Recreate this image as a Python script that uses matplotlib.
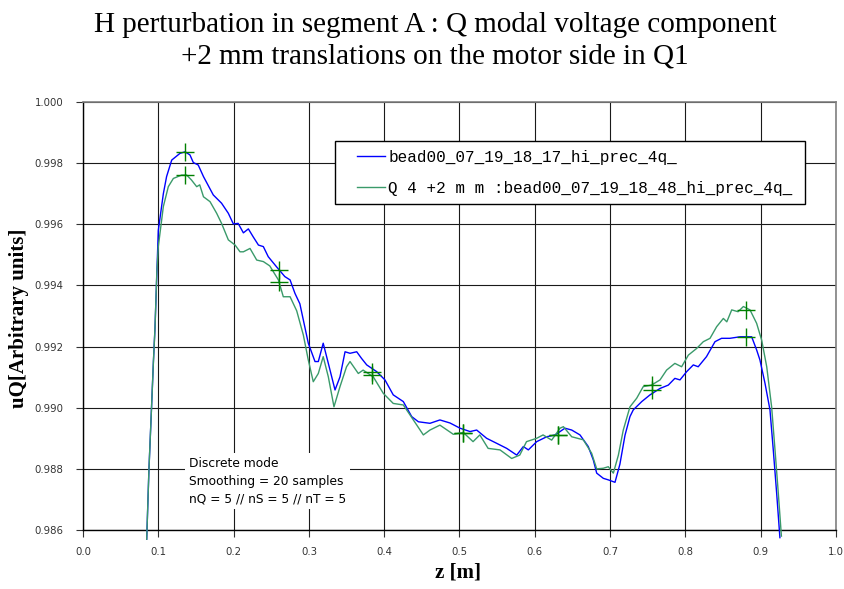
import matplotlib
matplotlib.use("Agg")
import matplotlib.pyplot as plt
from matplotlib.patches import Rectangle

# ---- data ----
blue_z = [0.0846, 0.0876, 0.0910, 0.0935, 0.0956, 0.100, 0.1067, 0.111, 0.1178, 0.1288,
          0.1355, 0.142, 0.1465, 0.153, 0.160, 0.173, 0.184, 0.193, 0.1997, 0.206,
          0.213, 0.2196, 0.226, 0.233, 0.2395, 0.246, 0.257, 0.268, 0.275, 0.2815,
          0.288, 0.2926, 0.2992, 0.3081, 0.3125, 0.319, 0.3258, 0.3347, 0.3413, 0.348,
          0.3546, 0.3635, 0.370, 0.3768, 0.390, 0.401, 0.412, 0.4254, 0.4365, 0.4454,
          0.4608, 0.474, 0.4874, 0.5007, 0.514, 0.5228, 0.536, 0.549, 0.5627, 0.576,
          0.5848, 0.5914, 0.6025, 0.6158, 0.627, 0.640, 0.649, 0.660, 0.671, 0.6777,
          0.6822, 0.691, 0.6976, 0.7065, 0.713, 0.7198, 0.7264, 0.7308, 0.742, 0.753,
          0.7663, 0.7773, 0.786, 0.7928, 0.8017, 0.8105, 0.817, 0.828, 0.8393, 0.848,
          0.859, 0.8725, 0.881, 0.888, 0.8946, 0.899, 0.9057, 0.9123, 0.9167, 0.9212,
          0.9255]
blue_v = [0.98570, 0.98800, 0.99000, 0.99150, 0.99260, 0.99580, 0.99700, 0.99756, 0.99810, 0.99832,
          0.99837, 0.99827, 0.99802, 0.99794, 0.99756, 0.99696, 0.99669, 0.99636, 0.99601, 0.99603,
          0.99572, 0.99585, 0.99559, 0.99532, 0.99527, 0.99494, 0.99461, 0.99429, 0.99418, 0.99374,
          0.99340, 0.99287, 0.99211, 0.99151, 0.99151, 0.99211, 0.99145, 0.99058, 0.99101, 0.99183,
          0.99178, 0.99183, 0.99161, 0.99140, 0.99118, 0.99091, 0.99042, 0.99020, 0.98971, 0.98954,
          0.98949, 0.98960, 0.98950, 0.98933, 0.98922, 0.98927, 0.98900, 0.98884, 0.98867, 0.98845,
          0.98873, 0.98862, 0.98889, 0.98905, 0.98911, 0.98933, 0.98927, 0.98911, 0.98873, 0.98829,
          0.98786, 0.98769, 0.98764, 0.98756, 0.98815, 0.98910, 0.98971, 0.98993, 0.99020, 0.99042,
          0.99063, 0.99074, 0.99096, 0.99091, 0.99118, 0.99140, 0.99134, 0.99167, 0.99216, 0.99227,
          0.99227, 0.99232, 0.99232, 0.99232, 0.99189, 0.99156, 0.99080, 0.98993, 0.98862, 0.98720,
          0.98575]

green_z = [0.0846, 0.0876, 0.0910, 0.0935, 0.0956, 0.098, 0.100, 0.1067, 0.1133, 0.120,
           0.131, 0.1377, 0.144, 0.151, 0.155, 0.160, 0.1687, 0.1775, 0.184, 0.193,
           0.202, 0.2085, 0.213, 0.2218, 0.2307, 0.2395, 0.248, 0.2595, 0.266, 0.275,
           0.2838, 0.2926, 0.2992, 0.3058, 0.3125, 0.319, 0.3258, 0.3333, 0.3413, 0.350,
           0.3546, 0.3656, 0.372, 0.3855, 0.3988, 0.412, 0.4254, 0.4387, 0.452, 0.4608,
           0.474, 0.4918, 0.505, 0.518, 0.527, 0.538, 0.5538, 0.5693, 0.580, 0.589,
           0.6025, 0.611, 0.6224, 0.6335, 0.638, 0.649, 0.6644, 0.6755, 0.6822, 0.691,
           0.6976, 0.7043, 0.711, 0.7175, 0.7264, 0.7353, 0.744, 0.755, 0.7663, 0.775,
           0.786, 0.795, 0.8039, 0.815, 0.8238, 0.8327, 0.8415, 0.8504, 0.855, 0.8615,
           0.870, 0.877, 0.8858, 0.8946, 0.9013, 0.908, 0.9145, 0.919, 0.9234, 0.9275]
green_v = [0.98570, 0.98800, 0.99000, 0.99150, 0.99260, 0.99440, 0.99527, 0.99658, 0.99723, 0.99750,
           0.99761, 0.99761, 0.99745, 0.99723, 0.99729, 0.99690, 0.99674, 0.99636, 0.99603, 0.99549,
           0.99532, 0.99510, 0.99510, 0.99521, 0.99483, 0.99478, 0.99464, 0.99418, 0.99363, 0.99363,
           0.99317, 0.99238, 0.99156, 0.99085, 0.99112, 0.99167, 0.99101, 0.99003, 0.99069, 0.99134,
           0.99151, 0.99112, 0.99123, 0.99101, 0.99047, 0.99014, 0.99009, 0.98960, 0.98911, 0.98927,
           0.98943, 0.98913, 0.98919, 0.98889, 0.98911, 0.98867, 0.98862, 0.98834, 0.98845, 0.98889,
           0.98900, 0.98911, 0.98894, 0.98933, 0.98938, 0.98905, 0.98895, 0.98851, 0.98800, 0.98802,
           0.98807, 0.98786, 0.98845, 0.98927, 0.99003, 0.99031, 0.99069, 0.99074, 0.99091, 0.99123,
           0.99145, 0.99134, 0.99172, 0.99194, 0.99216, 0.99227, 0.99265, 0.99292, 0.99281, 0.99320,
           0.99314, 0.99331, 0.99320, 0.99276, 0.99221, 0.99134, 0.99003, 0.98862, 0.98720, 0.98580]

marker_z = [0.1355, 0.260, 0.3834, 0.505, 0.6313, 0.755, 0.880]
marker_blue_v = [0.99837, 0.99451, 0.99118, 0.98916, 0.98911, 0.99058, 0.99232]
marker_green_v = [0.99761, 0.99412, 0.99107, 0.98916, 0.98911, 0.99074, 0.99320]

x_ticks = [0.0, 0.1, 0.2, 0.3, 0.4, 0.5, 0.6, 0.7, 0.8, 0.9, 1.0]
y_ticks = [0.986, 0.988, 0.990, 0.992, 0.994, 0.996, 0.998, 1.000]

label_blue = "bead00_07_19_18_17_hi_prec_4q_"
label_green = "Q 4 +2 m m :bead00_07_19_18_48_hi_prec_4q_"
title_line1 = "H perturbation in segment A : Q modal voltage component"
title_line2 = "+2 mm translations on the motor side in Q1"
note_text = "Discrete mode\nSmoothing = 20 samples\nnQ = 5 // nS = 5 // nT = 5"

# ---- figure ----
W, H = 845, 589
fig = plt.figure(figsize=(W / 100, H / 100), dpi=100)
L, R, T, B = 83, 836, 102, 530
ax = fig.add_axes([L / W, 1 - B / H, (R - L) / W, (B - T) / H])


def ax_x(px):
    return (px - L) / (R - L)


def ax_y(py):
    return 1 - (py - T) / (B - T)


ax.set_xlim(0.0, 1.0)
ax.set_ylim(0.986, 1.000)
ax.set_xticks(x_ticks)
ax.set_yticks(y_ticks)
ax.set_xticklabels([f"{v:.1f}" for v in x_ticks])
ax.set_yticklabels([f"{v:.3f}" for v in y_ticks])
ax.tick_params(axis='both', direction='out', length=5, width=0.8, colors='#333333',
               labelsize=7.3)
ax.tick_params(axis='y', pad=9)
ax.tick_params(axis='x', pad=7)

ax.grid(True, color='#1a1a1a', linewidth=0.8)
ax.set_axisbelow(True)
for s in ['top', 'right']:
    ax.spines[s].set_color('#808080')
    ax.spines[s].set_linewidth(1.2)
for s in ['left', 'bottom']:
    ax.spines[s].set_color('black')
    ax.spines[s].set_linewidth(1.0)

lb, = ax.plot(blue_z, blue_v, color='#0000ff', linewidth=1.0, label=label_blue, clip_on=False, zorder=3)
lg, = ax.plot(green_z, green_v, color='#3a9a6a', linewidth=1.0, label=label_green, clip_on=False, zorder=3)
ax.plot(marker_z, marker_blue_v, linestyle='none', marker='+', markersize=13,
        markeredgewidth=1.0, color='#008000', zorder=4)
ax.plot(marker_z, marker_green_v, linestyle='none', marker='+', markersize=13,
        markeredgewidth=1.0, color='#008000', zorder=4)

# legend frame
frame = Rectangle((ax_x(335), ax_y(204)), ax_x(805) - ax_x(335), ax_y(141) - ax_y(204),
                  transform=ax.transAxes, facecolor='white', edgecolor='black',
                  linewidth=1.0, zorder=6)
ax.add_patch(frame)
leg = ax.legend(handles=[lb, lg], loc='upper left',
                bbox_to_anchor=(ax_x(357), ax_y(150)),
                prop={'family': 'Liberation Mono', 'size': 11.5},
                frameon=False, handlelength=1.75, handletextpad=0.2, borderpad=0.0,
                labelspacing=0.98, borderaxespad=0)
leg.set_zorder(7)

ax.text(ax_x(189), ax_y(457), note_text, transform=ax.transAxes,
        ha='left', va='top', fontsize=8.8, family='DejaVu Sans', color='black',
        linespacing=1.45,
        bbox=dict(facecolor='white', edgecolor='none', pad=3), zorder=5)

fig.text(435 / W, 1 - 32 / H, title_line1, ha='center', va='baseline',
         fontsize=21, family='Liberation Serif')
fig.text(435 / W, 1 - 63 / H, title_line2, ha='center', va='baseline',
         fontsize=21, family='Liberation Serif')
fig.text(458 / W, 1 - 573 / H, "z [m]", ha='center', va='center',
         fontsize=15, family='Liberation Serif', weight='bold')
fig.text(19 / W, 1 - 318 / H, "uQ[Arbitrary units]", ha='center', va='center',
         rotation=90, fontsize=15, family='Liberation Serif', weight='bold')

fig.savefig("out.png", dpi=100)
